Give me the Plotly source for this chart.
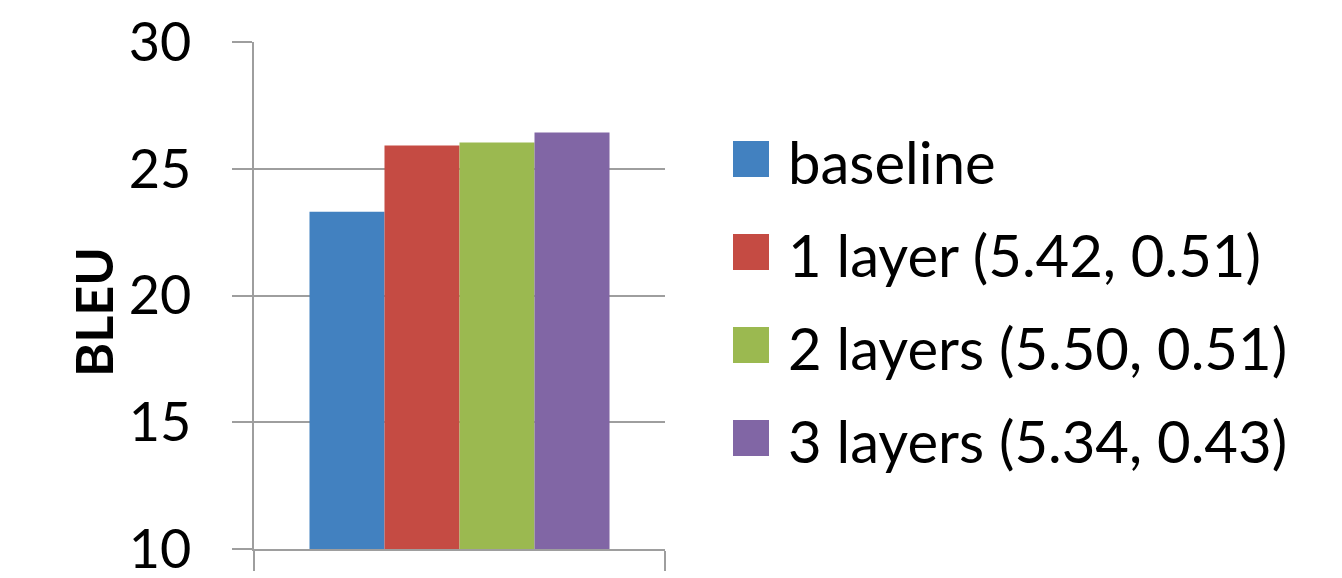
import plotly.graph_objects as go

# ---- data ----
category = ["BLEU"]
series_names = ["baseline", "1 layer (5.42, 0.51)", "2 layers (5.50, 0.51)", "3 layers (5.34, 0.43)"]
bleu_values = [23.3, 25.92, 26.04, 26.43]
bar_colors = ["#4281c0", "#c54b43", "#9bb950", "#8166a5"]
y_ticks = [10, 15, 20, 25, 30]

W, H = 1342, 578
ML, MR, MT, MB = 254, 677, 42, 29
PW, PH = W - ML - MR, H - MT - MB

def px_x(p):
    return (p - ML) / PW

def px_y(p):
    return 1 - (p - MT) / PH

GRID = "#9e9e9e"
FONT = "Lato"

fig = go.Figure()
for name, val, col in zip(series_names, bleu_values, bar_colors):
    fig.add_trace(go.Bar(x=category, y=[val], name=name, marker=dict(color=col, line=dict(width=0)),
                         showlegend=False))

fig.update_layout(
    width=W, height=H,
    margin=dict(l=ML, r=MR, t=MT, b=MB, pad=0, autoexpand=False),
    paper_bgcolor="white", plot_bgcolor="white",
    barmode="group", bargap=0.27, bargroupgap=0,
    font=dict(family=FONT, color="black"),
)
fig.update_yaxes(
    range=[y_ticks[0], y_ticks[-1]], tickvals=y_ticks, ticktext=[str(t) for t in y_ticks],
    showgrid=True, gridcolor=GRID, gridwidth=1.5,
    showline=True, linecolor=GRID, linewidth=1.5,
    ticks="outside", ticklen=20, tickcolor=GRID, tickwidth=1.5,
    tickfont=dict(family=FONT, size=54, color="black"),
    ticklabelstandoff=30, ticklabeloverflow="allow", zeroline=False, automargin=False,
)
fig.update_xaxes(
    type="category", showticklabels=False, showgrid=False,
    showline=True, linecolor=GRID, linewidth=1.5,
    ticks="outside", ticklen=20, tickcolor=GRID, tickwidth=1.5, tickson="boundaries",
    automargin=False,
)

# y-axis title
fig.add_annotation(text="<b>BLEU</b>", textangle=-90, xref="paper", yref="paper",
                   x=px_x(92.5), y=px_y(312.5), showarrow=False,
                   font=dict(family=FONT, size=52, color="black"),
                   xanchor="center", yanchor="middle")

# legend (manual, large square symbols)
sq = 36
for i, (name, col) in enumerate(zip(series_names, bar_colors)):
    cy = 159 + 93 * i
    fig.add_shape(type="rect", xref="paper", yref="paper",
                  x0=px_x(733), x1=px_x(733 + sq), y0=px_y(cy - sq / 2), y1=px_y(cy + sq / 2),
                  fillcolor=col, line=dict(width=0))
    fig.add_annotation(text=name, xref="paper", yref="paper", x=px_x(786), y=px_y(cy + 2),
                       showarrow=False, xanchor="left", yanchor="middle",
                       font=dict(family=FONT, size=58, color="black"))

fig.write_html("out.html")
